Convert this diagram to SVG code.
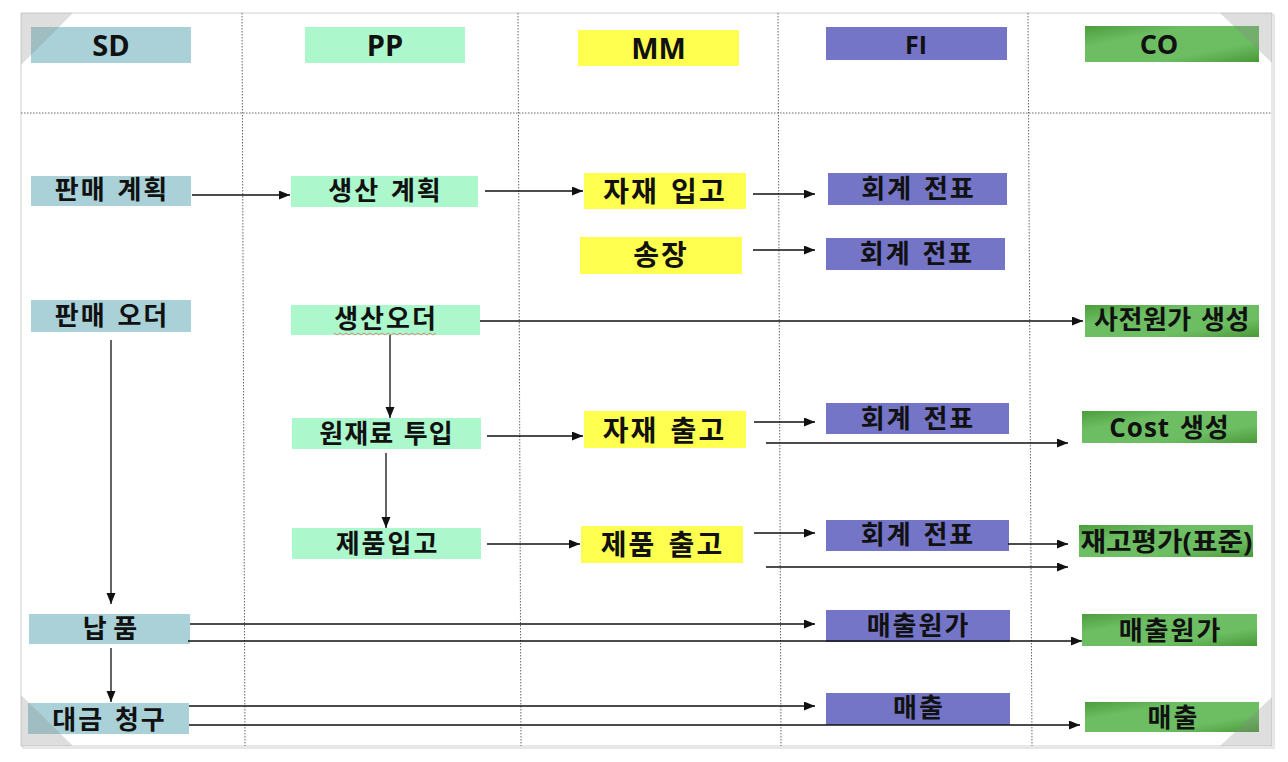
<svg xmlns="http://www.w3.org/2000/svg" width="1288" height="762" viewBox="0 0 1288 762">
<style>
text{font-family:"Open Sans","Noto Sans CJK KR","Noto Sans",sans-serif;font-weight:bold;fill:#111;text-anchor:middle;}
.h{font-size:29px;}
.n{font-size:26px;letter-spacing:2px;word-spacing:2px;}
.m{font-size:28px;letter-spacing:2px;word-spacing:3px;}
.sd{fill:#a9d1d7;}
.pp{fill:#adf7cd;}
.mm{fill:#ffff4f;}
.fi{fill:#7575c8;}
.co{fill:url(#g);}
.grid{stroke:#666;stroke-width:1;stroke-dasharray:1.5 1.5;fill:none;}
.c line{stroke:#111;stroke-width:1.3;marker-end:url(#a);}
.fold{fill:#888;fill-opacity:0.28;}
</style>
<defs>
<marker id="a" markerUnits="userSpaceOnUse" markerWidth="12" markerHeight="10" refX="11" refY="4.5" orient="auto"><path d="M0,0 L11,4.5 L0,9 z" fill="#111"/></marker>
<linearGradient id="g" x1="0" y1="0" x2="1" y2="1"><stop offset="0" stop-color="#4b9e3c"/><stop offset="0.3" stop-color="#6dbd63"/><stop offset="0.7" stop-color="#6dbd63"/><stop offset="1" stop-color="#4a9a3a"/></linearGradient>
</defs>
<rect width="1288" height="762" fill="#fff"/>
<rect x="23" y="15" width="1251" height="733" fill="none" stroke="#e6e6e6" stroke-width="2"/>
<rect x="21" y="13" width="1251" height="733" fill="#fff" stroke="#d9d9d9" stroke-width="1.2"/>
<g id="grid">
<line class="grid" x1="21" y1="113" x2="1272" y2="113"/>
<line class="grid" x1="242" y1="13" x2="245" y2="746"/>
<line class="grid" x1="518" y1="13" x2="521" y2="746"/>
<line class="grid" x1="778" y1="13" x2="781" y2="746"/>
<line class="grid" x1="1028" y1="13" x2="1032" y2="746"/>
</g>
<g id="hdr-sd"><rect class="sd" x="31" y="27" width="160" height="36"/><text class="h" x="111" y="55.5">SD</text></g>
<g id="hdr-pp"><rect class="pp" x="305" y="27" width="160" height="36"/><text class="h" x="385" y="55.5">PP</text></g>
<g id="hdr-mm"><rect class="mm" x="578" y="30" width="161" height="36"/><text class="h" x="658.5" y="58.5">MM</text></g>
<g id="hdr-fi"><rect class="fi" x="826" y="27" width="181" height="33"/><text class="h" x="916" y="53.5" style="font-size:25px">FI</text></g>
<g id="hdr-co"><rect class="co" x="1085" y="26" width="174" height="36"/><text class="h" x="1159" y="54" style="font-size:27px">CO</text></g>

<g id="sd-plan"><rect class="sd" x="31" y="176" width="160" height="30"/><text class="n" x="112" y="199">판매 계획</text></g>
<g id="pp-plan"><rect class="pp" x="291" y="176" width="187" height="31"/><text class="n" x="385.5" y="200">생산 계획</text></g>
<g id="mm-gr"><rect class="mm" x="584" y="173" width="162" height="36"/><text class="m" x="665" y="202">자재 입고</text></g>
<g id="fi-doc1"><rect class="fi" x="828" y="173" width="179" height="32"/><text class="n" x="918.5" y="198">회계 전표</text></g>

<g id="mm-inv"><rect class="mm" x="580" y="237" width="162" height="37"/><text class="m" x="661" y="264.5">송장</text></g>
<g id="fi-doc2"><rect class="fi" x="826" y="238" width="179" height="32"/><text class="n" x="917" y="263">회계 전표</text></g>

<g id="sd-order"><rect class="sd" x="31" y="300" width="160" height="32"/><text class="n" x="112" y="325">판매 오더</text></g>
<g id="pp-order"><rect class="pp" x="291" y="305" width="189" height="30"/><text class="n" x="386" y="328">생산오더</text><path d="M334,333 l3,2 l3,-2 l3,2 l3,-2 l3,2 l3,-2 l3,2 l3,-2 l3,2 l3,-2 l3,2 l3,-2 l3,2 l3,-2 l3,2 l3,-2 l3,2 l3,-2 l3,2 l3,-2 l3,2 l3,-2 l3,2 l3,-2 l3,2 l3,-2 l3,2 l3,-2 l3,2 l3,-2 l3,2 l3,-2 l3,2 l3,-2" fill="none" stroke="#d9534f" stroke-width="0.8" stroke-opacity="0.8"/></g>
<g id="co-precost"><rect class="co" x="1085" y="305" width="174" height="32"/><text class="n" x="1172" y="329" style="letter-spacing:0.5px">사전원가 생성</text></g>

<g id="pp-issue"><rect class="pp" x="292" y="418" width="189" height="31"/><text class="n" x="386.5" y="443" style="letter-spacing:1px">원재료 투입</text></g>
<g id="mm-gi"><rect class="mm" x="584" y="411" width="162" height="37"/><text class="m" x="664.5" y="441">자재 출고</text></g>
<g id="fi-doc3"><rect class="fi" x="826" y="403" width="183" height="31"/><text class="n" x="918" y="428">회계 전표</text></g>
<g id="co-cost"><rect class="co" x="1082" y="411" width="175" height="32"/><text class="n" x="1169.5" y="437" style="letter-spacing:1px">Cost 생성</text></g>

<g id="pp-receipt"><rect class="pp" x="292" y="528" width="189" height="31"/><text class="n" x="387.5" y="553">제품입고</text></g>
<g id="mm-prod-gi"><rect class="mm" x="581" y="526" width="162" height="37"/><text class="m" x="662.5" y="554.5">제품 출고</text></g>
<g id="fi-doc4"><rect class="fi" x="826" y="520" width="183" height="31"/><text class="n" x="918" y="544">회계 전표</text></g>
<g id="co-valuation"><rect class="co" x="1079" y="525" width="174" height="32"/><text class="n" x="1166.5" y="551" style="letter-spacing:0" textLength="172" lengthAdjust="spacingAndGlyphs">재고평가(표준)</text></g>

<g id="sd-delivery"><rect class="sd" x="29" y="614" width="161" height="30"/><text class="n" x="110" y="638" style="letter-spacing:0;word-spacing:0">납 품</text></g>
<g id="fi-cogs"><rect class="fi" x="826" y="610" width="184" height="32"/><text class="n" x="918.5" y="635">매출원가</text></g>
<g id="co-cogs"><rect class="co" x="1082" y="614" width="175" height="32"/><text class="n" x="1170.5" y="640">매출원가</text></g>

<g id="sd-billing"><rect class="sd" x="28" y="703" width="161" height="31"/><text class="n" x="109.5" y="729">대금 청구</text></g>
<g id="fi-rev"><rect class="fi" x="826" y="693" width="184" height="32"/><text class="n" x="919" y="717">매출</text></g>
<g id="co-rev"><rect class="co" x="1085" y="702" width="174" height="30"/><text class="n" x="1173.5" y="727">매출</text></g>

<g id="connectors" class="c">
<line x1="192" y1="195" x2="290" y2="195"/>
<line x1="485" y1="191" x2="583" y2="191"/>
<line x1="753" y1="194" x2="815" y2="194"/>
<line x1="753" y1="250" x2="815" y2="250"/>
<line x1="480" y1="321" x2="1083" y2="321"/>
<line x1="111" y1="340" x2="111" y2="604"/>
<line x1="390" y1="335" x2="390" y2="418"/>
<line x1="386" y1="453" x2="386" y2="528"/>
<line x1="487" y1="436" x2="583" y2="436"/>
<line x1="754" y1="422" x2="815" y2="422"/>
<line x1="766" y1="443" x2="1068" y2="443"/>
<line x1="487" y1="544" x2="580" y2="544"/>
<line x1="754" y1="533" x2="815" y2="533"/>
<line x1="1008" y1="544" x2="1068" y2="544"/>
<line x1="766" y1="567" x2="1068" y2="567"/>
<line x1="190" y1="624" x2="815" y2="624"/>
<line x1="188" y1="641" x2="1082" y2="641"/>
<line x1="111" y1="648" x2="111" y2="702"/>
<line x1="189" y1="706" x2="815" y2="706"/>
<line x1="189" y1="725" x2="1080" y2="725"/>
</g>
<g id="folds">
<path class="fold" d="M21,13 L73,13 L21,65 z"/>
<path class="fold" d="M1220,13 L1272,13 L1272,63 z"/>
<path class="fold" d="M21,695 L21,746 L73,746 z"/>
<path class="fold" d="M1272,697 L1272,746 L1220,746 z"/>
</g>
</svg>
